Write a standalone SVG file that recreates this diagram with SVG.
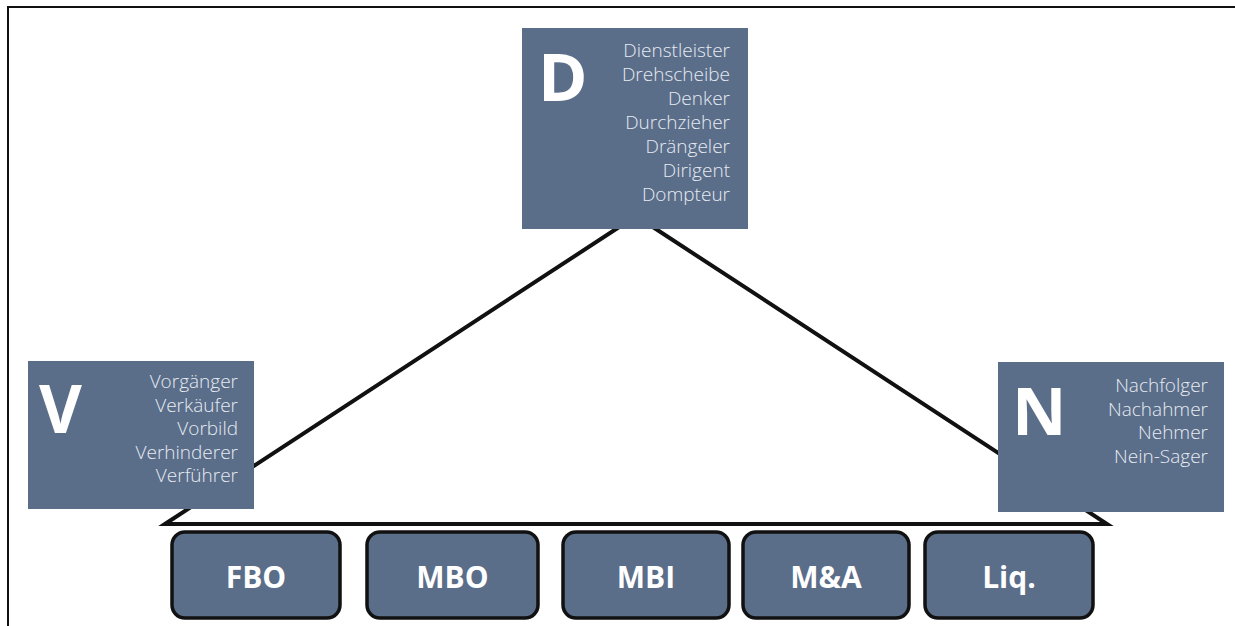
<svg xmlns="http://www.w3.org/2000/svg" width="1235" height="626" viewBox="0 0 1235 626">
<style>
.box{fill:#5a6d89}
.big{font-family:"Open Sans","Liberation Sans",sans-serif;font-weight:700;fill:#ffffff}
.list{font-family:"Open Sans","Liberation Sans",sans-serif;font-weight:300;font-size:19px;fill:#e6ebf2;text-anchor:end}
.opt rect{fill:#5a6d89;stroke:#111111;stroke-width:3.5}
.opt text{font-family:"Open Sans","Liberation Sans",sans-serif;font-weight:700;font-size:30px;fill:#ffffff;text-anchor:middle}
.edge{fill:none;stroke:#111111;stroke-width:4;stroke-linejoin:miter;stroke-miterlimit:20}
</style>
<rect x="0" y="0" width="1235" height="626" fill="#ffffff"/>
<g id="frame">
<line x1="7" y1="7" x2="1235" y2="7" stroke="#111" stroke-width="2"/>
<line x1="8" y1="6" x2="8" y2="626" stroke="#111" stroke-width="2"/>
</g>
<g id="connectors">
<polygon class="edge" points="165,524 636,216 1107,524"/>
</g>
<g id="node-D">
<rect class="box" x="522" y="28" width="226" height="201"/>
<text class="big" x="538" y="101" font-size="67">D</text>
<text class="list" x="730" y="57">Dienstleister</text>
<text class="list" x="730" y="81">Drehscheibe</text>
<text class="list" x="730" y="105">Denker</text>
<text class="list" x="730" y="129">Durchzieher</text>
<text class="list" x="730" y="153">Drängeler</text>
<text class="list" x="730" y="177">Dirigent</text>
<text class="list" x="730" y="201">Dompteur</text>
</g>
<g id="node-V">
<rect class="box" x="28" y="361" width="226" height="148"/>
<text class="big" x="39" y="433" font-size="66">V</text>
<text class="list" x="238" y="388">Vorgänger</text>
<text class="list" x="238" y="411.5">Verkäufer</text>
<text class="list" x="238" y="435">Vorbild</text>
<text class="list" x="238" y="458.5">Verhinderer</text>
<text class="list" x="238" y="482">Verführer</text>
</g>
<g id="node-N">
<rect class="box" x="998" y="362" width="226" height="150"/>
<text class="big" x="1012" y="435" font-size="67">N</text>
<text class="list" x="1208" y="392">Nachfolger</text>
<text class="list" x="1208" y="415.5">Nachahmer</text>
<text class="list" x="1208" y="439">Nehmer</text>
<text class="list" x="1208" y="462.5">Nein-Sager</text>
</g>
<g id="node-FBO" class="opt">
<rect x="172" y="532" width="168" height="86" rx="13"/>
<text x="256" y="588">FBO</text>
</g>
<g id="node-MBO" class="opt">
<rect x="367" y="532" width="171" height="86" rx="13"/>
<text x="452.5" y="588">MBO</text>
</g>
<g id="node-MBI" class="opt">
<rect x="563" y="532" width="166" height="86" rx="13"/>
<text x="646" y="588">MBI</text>
</g>
<g id="node-MA" class="opt">
<rect x="743" y="532" width="166" height="86" rx="13"/>
<text x="826" y="588">M&amp;A</text>
</g>
<g id="node-Liq" class="opt">
<rect x="925" y="532" width="168" height="86" rx="13"/>
<text x="1009" y="588">Liq.</text>
</g>
</svg>
